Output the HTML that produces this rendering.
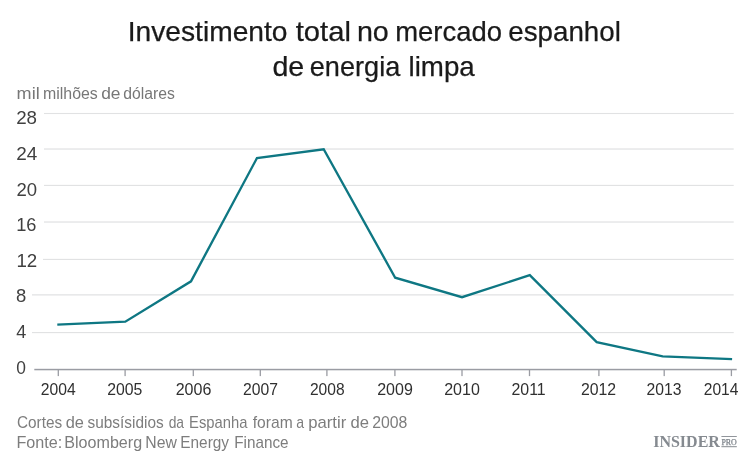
<!DOCTYPE html>
<html lang="pt">
<head>
<meta charset="utf-8">
<title>Investimento total no mercado espanhol de energia limpa</title>
<style>
html,body{margin:0;padding:0;background:#fff;}
body{width:750px;height:467px;overflow:hidden;}
svg{display:block;}
text{font-family:"Liberation Sans",sans-serif;white-space:pre;}
.title{font-size:27.4px;fill:#1a1a1a;stroke:#1a1a1a;stroke-width:0.25px;}
.sub{font-size:16px;fill:#777;}
.yl text{font-size:17.9px;fill:#404040;}
.xl text{font-size:15.9px;fill:#303030;}
.foot{font-size:16.4px;fill:#7d7d7d;}
.grid{fill:#e1e2e3;}
.logo{font-family:"Liberation Serif",serif;font-weight:bold;font-size:16.7px;fill:#858a90;}
.pro{font-family:"Liberation Serif",serif;font-size:8.0px;fill:#7d838a;stroke:#7d838a;stroke-width:0.25px;}
</style>
</head>
<body>
<svg width="750" height="467" viewBox="0 0 750 467">
<rect width="750" height="467" fill="#fff"/>
<!-- title, subtitle, footer -->
<text class="title" y="40.6"><tspan x="127.69" textLength="159.81" lengthAdjust="spacingAndGlyphs">Investimento</tspan> <tspan x="295.74" textLength="55.17" lengthAdjust="spacingAndGlyphs">total</tspan> <tspan x="356.92" textLength="31.87" lengthAdjust="spacingAndGlyphs">no</tspan> <tspan x="395.24" textLength="106.75" lengthAdjust="spacingAndGlyphs">mercado</tspan> <tspan x="508.24" textLength="112.62" lengthAdjust="spacingAndGlyphs">espanhol</tspan></text>
<text class="title" y="75.8"><tspan x="272.46" textLength="31.82" lengthAdjust="spacingAndGlyphs">de</tspan> <tspan x="309.76" textLength="90.49" lengthAdjust="spacingAndGlyphs">energia</tspan> <tspan x="408.47" textLength="66.26" lengthAdjust="spacingAndGlyphs">limpa</tspan></text>
<text class="sub" y="98.7"><tspan x="16.62" textLength="23.03" lengthAdjust="spacingAndGlyphs">mil</tspan> <tspan x="43.01" textLength="54.75" lengthAdjust="spacingAndGlyphs">milhões</tspan> <tspan x="101.17" textLength="19.31" lengthAdjust="spacingAndGlyphs">de</tspan> <tspan x="123.23" textLength="51.54" lengthAdjust="spacingAndGlyphs">dólares</tspan></text>
<text class="foot" y="428.4"><tspan x="16.98" textLength="45.22" lengthAdjust="spacingAndGlyphs">Cortes</tspan> <tspan x="65.70" textLength="18.22" lengthAdjust="spacingAndGlyphs">de</tspan> <tspan x="87.49" textLength="76.20" lengthAdjust="spacingAndGlyphs">subsísidios</tspan> <tspan x="168.68" textLength="15.40" lengthAdjust="spacingAndGlyphs">da</tspan> <tspan x="189.09" textLength="58.38" lengthAdjust="spacingAndGlyphs">Espanha</tspan> <tspan x="252.75" textLength="39.89" lengthAdjust="spacingAndGlyphs">foram</tspan> <tspan x="296.34" textLength="7.84" lengthAdjust="spacingAndGlyphs">a</tspan> <tspan x="308.23" textLength="38.00" lengthAdjust="spacingAndGlyphs">partir</tspan> <tspan x="350.43" textLength="18.52" lengthAdjust="spacingAndGlyphs">de</tspan> <tspan x="372.21" textLength="35.18" lengthAdjust="spacingAndGlyphs">2008</tspan></text>
<text class="foot" y="447.8"><tspan x="16.50" textLength="45.83" lengthAdjust="spacingAndGlyphs">Fonte:</tspan> <tspan x="64.26" textLength="77.87" lengthAdjust="spacingAndGlyphs">Bloomberg</tspan> <tspan x="145.28" textLength="31.57" lengthAdjust="spacingAndGlyphs">New</tspan> <tspan x="180.30" textLength="48.72" lengthAdjust="spacingAndGlyphs">Energy</tspan> <tspan x="234.31" textLength="54.31" lengthAdjust="spacingAndGlyphs">Finance</tspan></text>
<!-- gridlines -->
<g class="grid">
<rect x="44" y="112.95" width="689.7" height="1.1"/>
<rect x="44" y="148.4" width="689.7" height="1.25"/>
<rect x="44" y="184.85" width="689.7" height="1.15"/>
<rect x="44" y="221.4" width="689.7" height="1.25"/>
<rect x="43" y="258.85" width="690.7" height="1.15"/>
<rect x="32" y="294.25" width="701.7" height="1.25"/>
<rect x="32" y="332" width="701.7" height="1.15"/>
</g>
<!-- axis -->
<g fill="#9a9ca3">
<rect x="34.3" y="368.8" width="702.4" height="1.5"/>
<rect x="57.65" y="369.5" width="1.3" height="6.6"/>
<rect x="124.45" y="369.5" width="1.3" height="6.6"/>
<rect x="192.65" y="369.5" width="1.3" height="6.6"/>
<rect x="259.65" y="369.5" width="1.3" height="6.6"/>
<rect x="326.25" y="369.5" width="1.3" height="6.6"/>
<rect x="394.25" y="369.5" width="1.3" height="6.6"/>
<rect x="461.35" y="369.5" width="1.3" height="6.6"/>
<rect x="528.85" y="369.5" width="1.3" height="6.6"/>
<rect x="598.25" y="369.5" width="1.3" height="6.6"/>
<rect x="663.55" y="369.5" width="1.3" height="6.6"/>
<rect x="730.75" y="369.5" width="1.3" height="6.6"/>
</g>
<!-- y labels -->
<g class="yl">
<text x="16.16" y="124.3" textLength="20.85" lengthAdjust="spacingAndGlyphs">28</text>
<text x="16.17" y="160.0" textLength="21.08" lengthAdjust="spacingAndGlyphs">24</text>
<text x="16.41" y="195.5" textLength="20.60" lengthAdjust="spacingAndGlyphs">20</text>
<text x="16.21" y="231.0" textLength="20.29" lengthAdjust="spacingAndGlyphs">16</text>
<text x="16.43" y="266.6" textLength="20.84" lengthAdjust="spacingAndGlyphs">12</text>
<text x="16.09" y="302.2" textLength="10.27" lengthAdjust="spacingAndGlyphs">8</text>
<text x="16.21" y="337.9" textLength="10.05" lengthAdjust="spacingAndGlyphs">4</text>
<text x="16.14" y="373.6" textLength="9.68" lengthAdjust="spacingAndGlyphs">0</text>
</g>
<!-- data line -->
<polyline fill="none" stroke="#0e7783" stroke-width="2.35" stroke-linejoin="miter" points="57.3,324.7 125.3,321.7 191,281.3 257,158 323.7,149.3 395.2,277.7 462,297.2 529.8,275.2 596.7,342.2 662.7,356.3 732.1,359.1"/>
<!-- x labels -->
<g class="xl">
<text x="40.72" y="395.3" textLength="34.90" lengthAdjust="spacingAndGlyphs">2004</text>
<text x="107.21" y="395.3" textLength="35.17" lengthAdjust="spacingAndGlyphs">2005</text>
<text x="175.71" y="395.3" textLength="35.67" lengthAdjust="spacingAndGlyphs">2006</text>
<text x="242.96" y="395.3" textLength="34.92" lengthAdjust="spacingAndGlyphs">2007</text>
<text x="309.96" y="395.3" textLength="34.68" lengthAdjust="spacingAndGlyphs">2008</text>
<text x="377.21" y="395.3" textLength="35.67" lengthAdjust="spacingAndGlyphs">2009</text>
<text x="444.21" y="395.3" textLength="35.67" lengthAdjust="spacingAndGlyphs">2010</text>
<text x="511.46" y="395.3" textLength="34.17" lengthAdjust="spacingAndGlyphs">2011</text>
<text x="580.96" y="395.3" textLength="35.17" lengthAdjust="spacingAndGlyphs">2012</text>
<text x="646.46" y="395.3" textLength="34.92" lengthAdjust="spacingAndGlyphs">2013</text>
<text x="703.72" y="395.3" textLength="34.65" lengthAdjust="spacingAndGlyphs">2014</text>
</g>
<!-- logo -->
<text class="logo" x="653.23" y="447.0" textLength="66.63" lengthAdjust="spacingAndGlyphs">INSIDER</text>
<rect x="721.4" y="436" width="15.4" height="0.9" fill="#858a90"/>
<rect x="721.4" y="446.2" width="15.4" height="1" fill="#858a90"/>
<text class="pro" x="721.49" y="444.6" textLength="15.32" lengthAdjust="spacingAndGlyphs">PRO</text>
</svg>
</body>
</html>
